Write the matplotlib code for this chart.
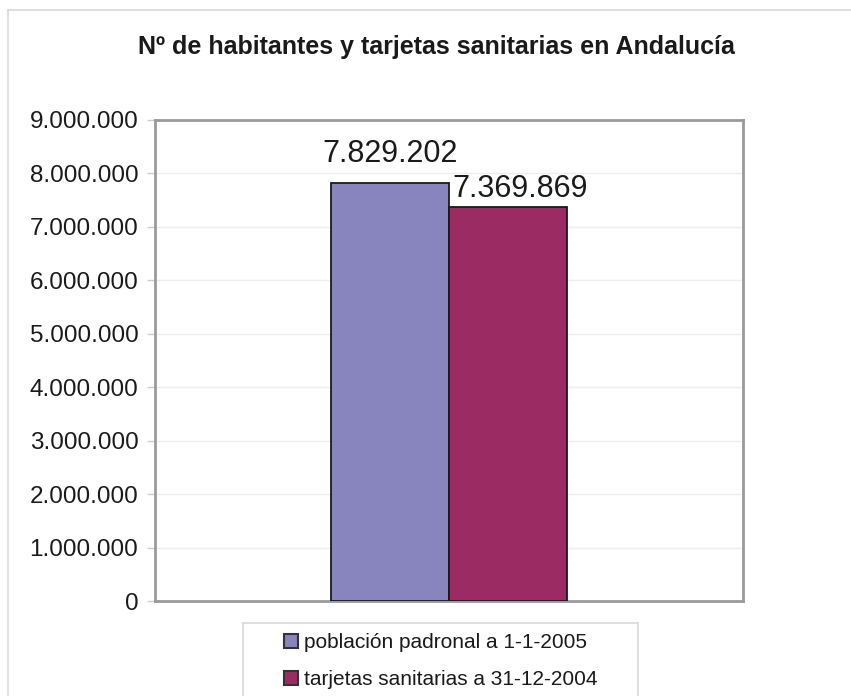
import matplotlib.pyplot as plt
from matplotlib.patches import Patch
from matplotlib.lines import Line2D
import matplotlib.ticker as mticker

# datos
series = ["población padronal a 1-1-2005", "tarjetas sanitarias a 31-12-2004"]
values = [7829202, 7369869]
colors = ["#8784be", "#9b2c63"]
yticks = list(range(0, 9000001, 1000000))

plt.rcParams['font.family'] = ['Liberation Sans', 'DejaVu Sans']


def fmt_es(v):
    return f"{int(v):,}".replace(",", ".")


fig = plt.figure(figsize=(8.51, 6.96), dpi=100)
W, H = 851, 696
ax = fig.add_axes([155 / W, 1 - 601 / H, 588 / W, 481 / H])

width = 0.2
offsets = [-width / 2, width / 2]
# desplazamiento de las etiquetas (puntos), como las coloca Excel
label_shift = [(0, 9.5), (9, 2.5)]
for off, v, c, sh in zip(offsets, values, colors, label_shift):
    ax.bar(off, v, width=width, color=c, edgecolor="#1a1a1a", linewidth=1.3, zorder=3)
    ax.annotate(fmt_es(v), (off, v), xytext=sh, textcoords="offset points",
                ha="center", va="bottom", fontsize=22, color="#1a1a1a", zorder=4)

ax.set_xlim(-0.5, 0.5)
ax.set_ylim(0, 9000000)
ax.set_xticks([])
ax.set_yticks(yticks)
ax.yaxis.set_major_formatter(mticker.FuncFormatter(lambda v, p: fmt_es(v)))
ax.tick_params(axis="y", labelsize=17.5, length=6, width=1, color="#cccccc",
               labelcolor="#1a1a1a", pad=6)
ax.grid(axis="y", color="#eeeeee", linewidth=1, zorder=0)
for s in ax.spines.values():
    s.set_color("#9a9a9e")
    s.set_linewidth(2)

fig.text(436 / W, 1 - 47 / H, "Nº de habitantes y tarjetas sanitarias en Andalucía",
         ha="center", va="center", fontsize=18, fontweight="bold", color="#1a1a1a")

# borde exterior del gráfico
fig.add_artist(Line2D([8 / W, 1.0], [1 - 10 / H, 1 - 10 / H], color="#d9d9d9", lw=1.2))
fig.add_artist(Line2D([8 / W, 8 / W], [0, 1 - 10 / H], color="#d9d9d9", lw=1.2))

# caja de la leyenda
fig.add_artist(Line2D([243 / W, 638 / W], [1 - 623 / H, 1 - 623 / H], color="#d9d9d9", lw=1.2))
fig.add_artist(Line2D([243 / W, 243 / W], [0, 1 - 623 / H], color="#d9d9d9", lw=1.2))
fig.add_artist(Line2D([638 / W, 638 / W], [0, 1 - 623 / H], color="#d9d9d9", lw=1.2))

handles = [Patch(facecolor=c, edgecolor="#333333", linewidth=1.5) for c in colors]
leg = fig.legend(handles, series, loc="upper left",
                 bbox_to_anchor=(284 / W, 1 - 633 / H), frameon=False,
                 fontsize=15, handlelength=0.65, handleheight=0.65,
                 handletextpad=0.3, labelspacing=0.87, borderpad=0,
                 borderaxespad=0)
for t in leg.get_texts():
    t.set_color("#1a1a1a")

fig.savefig("out.png", dpi=100)
